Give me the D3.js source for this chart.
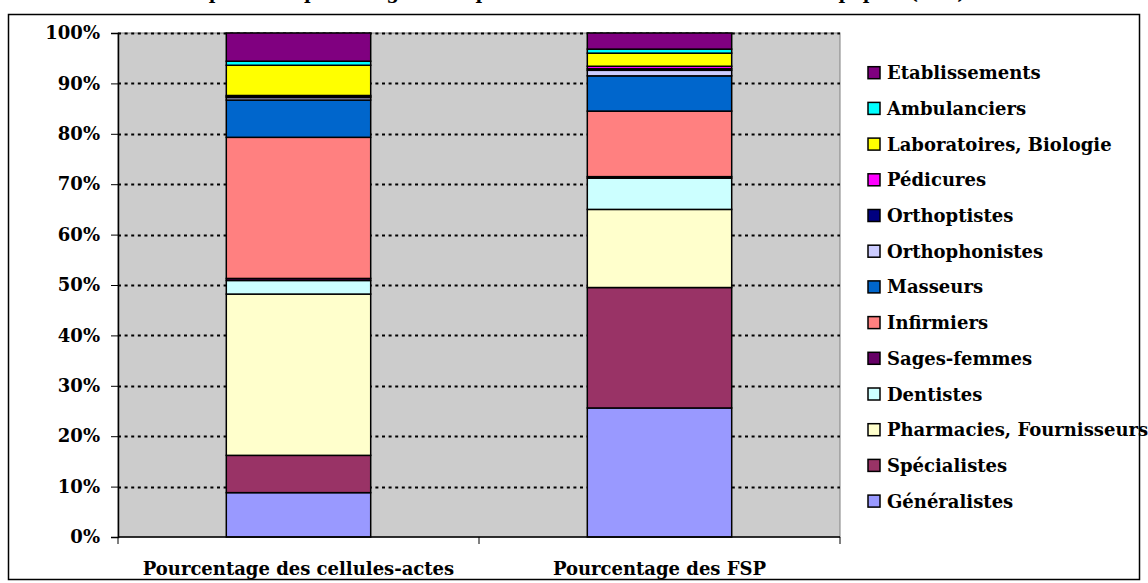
<!DOCTYPE html>
<html>
<head>
<meta charset="utf-8">
<script src="https://cdn.jsdelivr.net/npm/d3@7"></script>
<style>
  body { margin: 0; background: #fff; }
  text { font-family: "DejaVu Serif", serif; font-weight: bold; fill: #000; }
</style>
</head>
<body>
<svg class="chart"></svg>
<script>
// data (percent of each column)
var categories = ["Pourcentage des cellules-actes", "Pourcentage des FSP"];
var seriesNames = ["Généralistes", "Spécialistes", "Pharmacies, Fournisseurs", "Dentistes",
    "Sages-femmes", "Infirmiers", "Masseurs", "Orthophonistes", "Orthoptistes",
    "Pédicures", "Laboratoires, Biologie", "Ambulanciers", "Etablissements"];
var cellulesActes = [8.8, 7.4, 32.0, 2.7, 0.4, 28.0, 7.4, 0.5, 0.2, 0.2, 6.0, 0.8, 5.6];
var fsp = [25.6, 23.9, 15.5, 6.2, 0.3, 13.0, 7.0, 1.1, 0.3, 0.5, 2.6, 0.8, 3.2];
var seriesColors = ["#9999FF", "#993366", "#FFFFCC", "#CCFFFF", "#660066", "#FF8080",
    "#0066CC", "#CCCCFF", "#000080", "#FF00FF", "#FFFF00", "#00FFFF", "#800080"];
var yTicks = [0, 10, 20, 30, 40, 50, 60, 70, 80, 90, 100];
var title = "Répartition par catégorie de professionnels des feuilles de soins papier (FSP)";

function show() {
    'use strict';

    var W = 1148, H = 583;
    var plot = { left: 118, right: 840, top: 33, bottom: 537 };

    var svg = d3.select(".chart")
        .attr("width", W)
        .attr("height", H);

    // chart frame and title (cropped at the top edge, as in the source)
    svg.append("rect")
        .attr("x", 8.5).attr("y", 14.5)
        .attr("width", 1131).attr("height", 565)
        .attr("fill", "#fff").attr("stroke", "#000").attr("stroke-width", 1.5);

    svg.append("text")
        .attr("x", 574).attr("y", -1)
        .attr("text-anchor", "middle")
        .style("font-size", "18px")
        .text(title);

    var x = d3.scaleBand().domain(categories).range([plot.left, plot.right]);
    var y = d3.scaleLinear().domain([0, 100]).range([plot.bottom, plot.top]);
    var barW = x.bandwidth() * 0.4;

    // plot area
    svg.append("rect")
        .attr("x", plot.left).attr("y", plot.top)
        .attr("width", plot.right - plot.left).attr("height", plot.bottom - plot.top)
        .attr("fill", "#CCCCCC").attr("stroke", "#808080").attr("stroke-width", 1);

    // dotted gridlines
    svg.append("g").selectAll("line")
        .data(yTicks.filter(function(d) { return d > 0; }))
        .enter().append("line")
        .attr("x1", plot.left).attr("x2", plot.right)
        .attr("y1", function(d) { return Math.round(y(d)) + 0.5; })
        .attr("y2", function(d) { return Math.round(y(d)) + 0.5; })
        .attr("stroke", "#000").attr("stroke-width", 2)
        .attr("stroke-dasharray", "3,3.6");

    // stacked bars
    var rows = categories.map(function(c, i) {
        var row = { cat: c };
        var vals = i === 0 ? cellulesActes : fsp;
        seriesNames.forEach(function(s, j) { row[s] = vals[j]; });
        return row;
    });
    var stack = d3.stack().keys(seriesNames)(rows);

    svg.append("g").selectAll("g")
        .data(stack)
        .enter().append("g")
        .attr("fill", function(d, i) { return seriesColors[i]; })
        .selectAll("rect")
        .data(function(d) { return d; })
        .enter().append("rect")
        .attr("x", function(d) { return x(d.data.cat) + (x.bandwidth() - barW) / 2; })
        .attr("y", function(d) { return y(d[1]); })
        .attr("width", barW)
        .attr("height", function(d) { return y(d[0]) - y(d[1]); })
        .attr("stroke", "#000").attr("stroke-width", 1.5);

    // y axis
    var yAxis = svg.append("g")
        .attr("transform", "translate(" + plot.left + ",0)")
        .call(d3.axisLeft(y).tickValues(yTicks)
            .tickFormat(function(d) { return d + "%"; })
            .tickSize(7).tickPadding(11));
    yAxis.select(".domain").attr("stroke", "#000").attr("stroke-width", 1.5);
    yAxis.selectAll(".tick line").attr("stroke", "#000");
    yAxis.selectAll("text")
        .attr("font-family", null).attr("font-size", null)
        .style("font-size", "18px");

    // x axis: line, ticks at band edges, labels under bars
    svg.append("line")
        .attr("x1", plot.left).attr("x2", plot.right)
        .attr("y1", plot.bottom).attr("y2", plot.bottom)
        .attr("stroke", "#000").attr("stroke-width", 1.5);
    var edges = categories.map(function(c) { return x(c); }).concat([plot.right]);
    svg.append("g").selectAll("line")
        .data(edges)
        .enter().append("line")
        .attr("x1", function(d) { return d; }).attr("x2", function(d) { return d; })
        .attr("y1", plot.bottom).attr("y2", plot.bottom + 7)
        .attr("stroke", "#000");
    svg.append("g").selectAll("text")
        .data(categories)
        .enter().append("text")
        .attr("x", function(d) { return x(d) + x.bandwidth() / 2; })
        .attr("y", 575)
        .attr("text-anchor", "middle")
        .style("font-size", "18px")
        .text(function(d) { return d; });

    // legend, top item is the last series
    var legend = svg.append("g").selectAll("g")
        .data(seriesNames.slice().reverse())
        .enter().append("g")
        .attr("transform", function(d, i) { return "translate(868," + (72.7 + i * 35.7) + ")"; });
    legend.append("rect")
        .attr("x", 0).attr("y", -6)
        .attr("width", 12).attr("height", 12)
        .attr("fill", function(d) { return seriesColors[seriesNames.indexOf(d)]; })
        .attr("stroke", "#000").attr("stroke-width", 1.5);
    legend.append("text")
        .attr("x", 19).attr("y", 6.5)
        .style("font-size", "18px")
        .text(function(d) { return d; });
}

show();
</script>
</body>
</html>
